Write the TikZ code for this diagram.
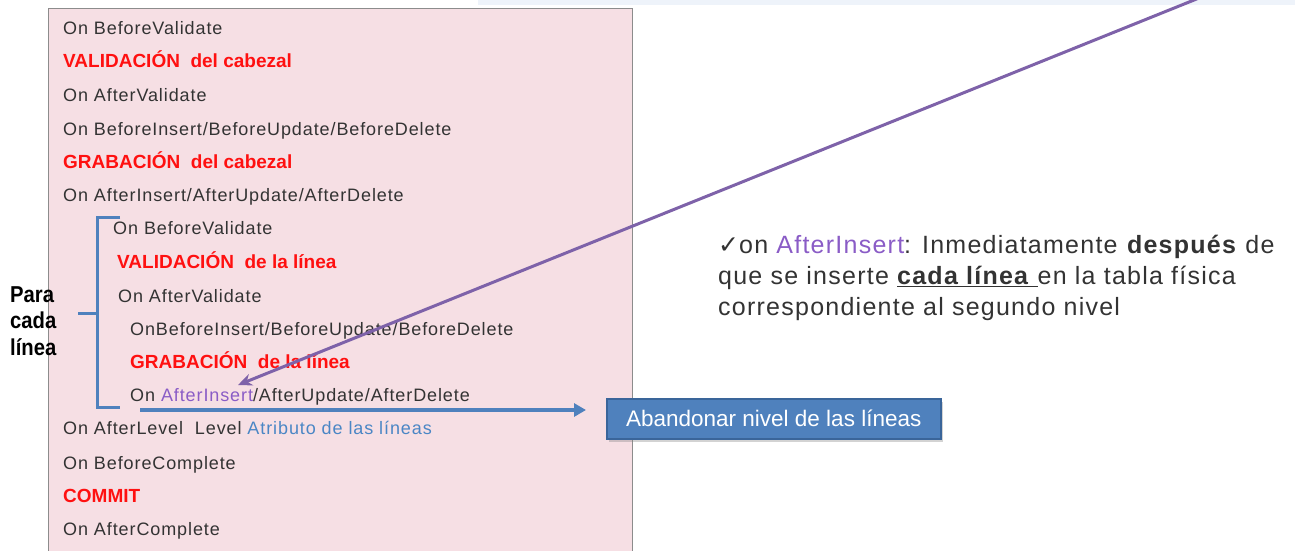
\documentclass[tikz,border=0pt]{standalone}
\usepackage{fontspec}
\setmainfont{Liberation Sans}
\newfontfamily\dejavu{DejaVu Sans}
\usetikzlibrary{arrows.meta,shadows}
\definecolor{boxpink}{HTML}{F6DFE4}
\definecolor{boxborder}{HTML}{8C8C8C}
\definecolor{txtgray}{HTML}{333333}
\definecolor{redtxt}{HTML}{FF1010}
\definecolor{purptxt}{HTML}{8A5CC6}
\definecolor{bluetxt}{HTML}{4A86C5}
\definecolor{steel}{HTML}{4F81BD}
\definecolor{steeldark}{HTML}{3A659A}
\definecolor{arrowpurple}{HTML}{7E62A9}
\definecolor{bandblue}{HTML}{EEF3FA}
\tikzset{
  evt/.style={anchor=base west, inner sep=0pt, text=txtgray,
    font=\fontsize{18}{20}\selectfont\addfontfeatures{LetterSpace=5}},
  redevt/.style={anchor=base west, inner sep=0pt, text=redtxt,
    font=\fontsize{19}{20}\selectfont\bfseries},
  brace/.style={draw=steel, line width=3pt},
  leave/.style={draw=steeldark, line width=1.5pt, fill=steel, text=white,
    font=\fontsize{22.5}{24}\selectfont, minimum width=334pt, minimum height=40pt,
    inner sep=0pt, drop shadow={opacity=0.35, shadow xshift=2pt, shadow yshift=-3pt}},
  notetxt/.style={anchor=north west, inner sep=0pt, align=left, text=txtgray,
    font=\fontsize{25}{31}\selectfont\addfontfeatures{LetterSpace=5}},
}
\begin{document}
\begin{tikzpicture}[x=1pt,y=-1pt]
\useasboundingbox (0,0) rectangle (1295,550);
\clip (0,0) rectangle (1295,550);
\fill[bandblue] (478,0) rectangle (1295,5);
\node[draw=boxborder, fill=boxpink, line width=1pt, anchor=north west, inner sep=0pt,
  minimum width=584pt, minimum height=560pt] (box) at (48,8) {};
% outer events
\node[evt] (l1) at (63,34) {On BeforeValidate};
\node[redevt] (l2) at (63,67.5) {VALIDACIÓN\ \ del cabezal};
\node[evt] (l3) at (63,101) {On AfterValidate};
\node[evt] (l4) at (63,135) {On BeforeInsert/BeforeUpdate/BeforeDelete};
\node[redevt] (l5) at (63,168.5) {GRABACIÓN\ \ del cabezal};
\node[evt] (l6) at (63,201) {On AfterInsert/AfterUpdate/AfterDelete};
% inner events
\node[evt] (m1) at (113,234) {On BeforeValidate};
\node[redevt] (m2) at (117,268.5) {VALIDACIÓN\ \ de la línea};
\node[evt] (m3) at (118,302) {On AfterValidate};
\node[evt] (m4) at (130,335) {OnBeforeInsert/BeforeUpdate/BeforeDelete};
\node[redevt] (m5) at (130,368.5) {GRABACIÓN\ \ de la línea};
\node[evt] (m6) at (130,401) {On {\color{purptxt}AfterInsert}/AfterUpdate/AfterDelete};
% outer after
\node[evt] (l7) at (63,434) {On AfterLevel\ \ Level {\color{bluetxt}Atributo de las líneas}};
\node[evt] (l8) at (63,469) {On BeforeComplete};
\node[redevt] (l9) at (63,502.5) {COMMIT};
\node[evt] (l10) at (63,535) {On AfterComplete};
% bracket
\coordinate (bt) at (120,217);
\coordinate (bb) at (120,407);
\coordinate (bm) at (97,313);
\draw[brace] (bt) -- (97,217) -- (97,407) -- (bb);
\draw[brace] (bm) -- (78,313);
\node[anchor=north west, inner sep=0pt, align=left, text=black,
  font=\fontsize{23}{26.5}\selectfont\bfseries\addfontfeatures{FakeStretch=0.88}] (para) at (10,286) {Para\\cada\\línea};
% leave box
\node[leave, anchor=north west] (leave) at (606,398) {Abandonar nivel de las líneas};
\coordinate (arrstart) at (140,410);
\draw[draw=steel, line width=3.5pt, -{Triangle[length=12pt,width=13pt]}]
  (arrstart) -- ([xshift=-20pt]leave.west |- arrstart);
% note
\node[notetxt] (note) at (718,235) {{\dejavu\addfontfeatures{LetterSpace=0}✓}on {\color{purptxt}AfterInsert}: Inmediatamente \textbf{después} de\\
que se inserte \underline{\textbf{cada línea}\ }en la tabla física\\
correspondiente al segundo nivel};
% purple arrow
\coordinate (pstart) at (1204,-4);
\draw[draw=arrowpurple, line width=3pt, -{Stealth[length=14pt,width=12pt]}] (pstart) -- (238,385);
\end{tikzpicture}
\end{document}
